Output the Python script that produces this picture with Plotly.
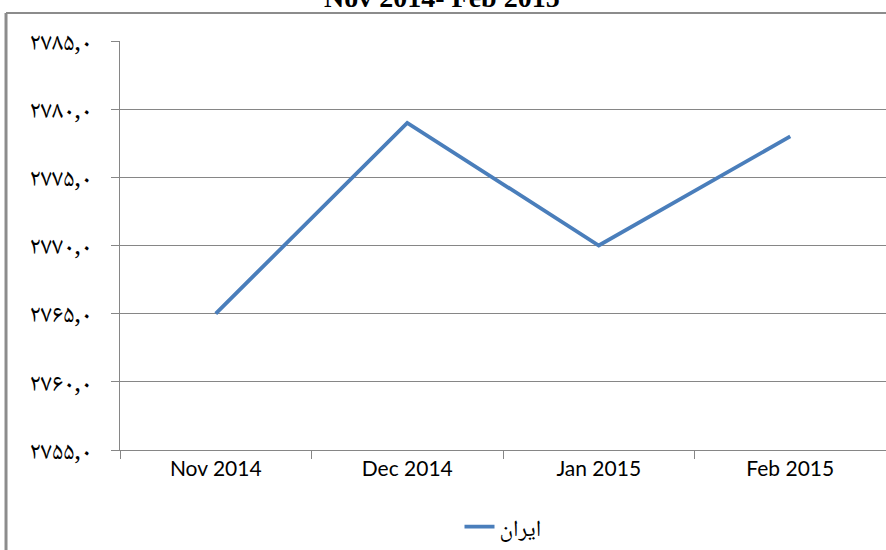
import plotly.graph_objects as go

categories = ["Nov 2014", "Dec 2014", "Jan 2015", "Feb 2015"]
values = [2765, 2779, 2770, 2778]
tick_vals = [2755, 2760, 2765, 2770, 2775, 2780, 2785]
tick_text = ["۲۷۵۵,۰", "۲۷۶۰,۰", "۲۷۶۵,۰", "۲۷۷۰,۰", "۲۷۷۵,۰", "۲۷۸۰,۰", "۲۷۸۵,۰"]
series_name = "ایران"
title_text = "Nov 2014- Feb 2015"

fig = go.Figure()
fig.add_trace(go.Scatter(
    x=categories, y=values, mode="lines", name=series_name,
    line=dict(color="#4A7EBB", width=3.8),
))

fig.update_layout(
    width=886, height=550,
    margin=dict(l=120, r=0, t=41, b=100),
    plot_bgcolor="white", paper_bgcolor="white",
    showlegend=True,
    legend=dict(orientation="h", x=0.5, xanchor="center", y=-0.135, yanchor="top",
                font=dict(family="Noto Naskh Arabic, Noto Sans Arabic, DejaVu Sans", size=23, color="black")),
    xaxis=dict(type="category", range=[-0.5, 3.5], tickson="boundaries",
               ticks="outside", ticklen=8, tickcolor="#868686",
               showline=True, linecolor="#868686", linewidth=1,
               showgrid=False, zeroline=False,
               tickfont=dict(family="Lato, Open Sans", size=21, color="black")),
    yaxis=dict(range=[2755, 2785], tickvals=tick_vals, ticktext=tick_text,
               ticks="outside", ticklen=8, tickcolor="#868686", ticklabelstandoff=14,
               showline=True, linecolor="#868686", linewidth=1,
               showgrid=True, gridcolor="#868686", gridwidth=1, zeroline=False,
               tickfont=dict(family="Noto Naskh Arabic, Noto Sans Arabic, DejaVu Sans", size=25, color="black")),
    annotations=[dict(text="<b>" + title_text + "</b>", xref="paper", yref="paper",
                      x=0.42, y=1.063, xanchor="center", yanchor="bottom", showarrow=False,
                      font=dict(family="Liberation Serif", size=28, color="black"))],
    shapes=[
        dict(type="line", xref="paper", yref="paper", x0=-0.1488, x1=-0.1488, y0=1.0685, y1=-0.3,
             line=dict(color="#8C8C8C", width=3)),
        dict(type="line", xref="paper", yref="paper", x0=-0.1488, x1=1.01, y0=1.0685, y1=1.0685,
             line=dict(color="#8C8C8C", width=2)),
    ],
)

fig.write_html("out.html", config={"displayModeBar": False},
               post_script="document.body.style.margin='0';document.body.style.overflow='hidden';")
